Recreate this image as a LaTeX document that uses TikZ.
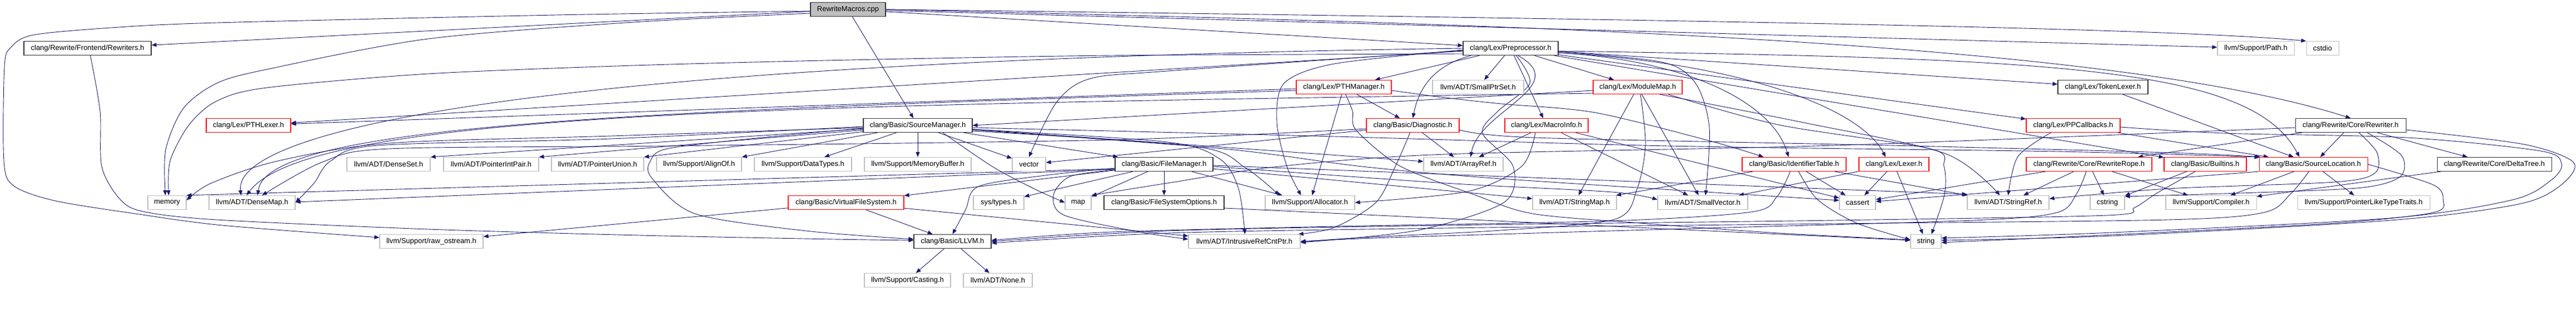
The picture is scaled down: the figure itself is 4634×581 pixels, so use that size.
\documentclass[tikz,border=0pt]{standalone}
\usepackage{fontspec}
\setmainfont{Liberation Sans}
\usetikzlibrary{arrows.meta}
\pgfdeclarelayer{bg}
\pgfsetlayers{bg,main}
\definecolor{edgec}{HTML}{191970}
\definecolor{grayb}{HTML}{BFBFBF}
\definecolor{rootf}{HTML}{BFBFBF}
\newcommand\nd[6]{\pgfmathsetmacro\ndw{#3-#2}\pgfmathsetmacro\ndx{(#2+#3)/2}\node[#5, minimum width=\ndw pt] (#1) at (\ndx,#4) {#6};}
\tikzset{
 nbase/.style={rectangle, inner sep=0pt, minimum height=25pt, fill=white, line width=1.1pt, font=\fontsize{13}{15}\selectfont, text=black},
 gnode/.style={nbase, draw=grayb},
 rnode/.style={nbase, draw=red},
 bnode/.style={nbase, draw=black!80},
 rootnode/.style={nbase, draw=black!80, fill=rootf},
 ed/.style={draw=edgec, line width=0.9pt, -{Triangle[length=9pt,width=7pt]}},
}
\begin{document}
\begin{tikzpicture}[x=1pt,y=-1pt]
\useasboundingbox (0,0) rectangle (4634,581);
% row 0
\nd{root}{1458}{1593}{17}{rootnode}{RewriteMacros.cpp}
% row 1
\nd{rewriters}{43}{272}{87}{bnode}{clang/Rewrite/Frontend/Rewriters.h}
\nd{pp}{2632}{2803}{87}{bnode}{clang/Lex/Preprocessor.h}
\nd{pathnode}{3989}{4127}{87}{gnode}{llvm/Support/Path.h}
\nd{cstdio}{4149}{4207}{87}{gnode}{cstdio}
% row 2
\nd{pthmgr}{2332}{2503}{157}{rnode}{clang/Lex/PTHManager.h}
\nd{smallptrset}{2577}{2741}{157}{gnode}{llvm/ADT/SmallPtrSet.h}
\nd{modulemap}{2866}{3026}{157}{rnode}{clang/Lex/ModuleMap.h}
\nd{tokenlexer}{3702}{3864}{157}{bnode}{clang/Lex/TokenLexer.h}
% row 3
\nd{pthlexer}{371}{523}{226}{rnode}{clang/Lex/PTHLexer.h}
\nd{srcmgr}{1553}{1749}{226}{bnode}{clang/Basic/SourceManager.h}
\nd{diag}{2458}{2625}{226}{rnode}{clang/Basic/Diagnostic.h}
\nd{macroinfo}{2707}{2857}{226}{rnode}{clang/Lex/MacroInfo.h}
\nd{ppcallbacks}{3645}{3814}{226}{rnode}{clang/Lex/PPCallbacks.h}
\nd{rewriter}{4129}{4328}{226}{bnode}{clang/Rewrite/Core/Rewriter.h}
% row 4
\nd{denseset}{624}{774}{296}{gnode}{llvm/ADT/DenseSet.h}
\nd{pip}{798}{969}{296}{gnode}{llvm/ADT/PointerIntPair.h}
\nd{punion}{992}{1158}{296}{gnode}{llvm/ADT/PointerUnion.h}
\nd{alignof}{1181}{1334}{296}{gnode}{llvm/Support/AlignOf.h}
\nd{datatypes}{1357}{1532}{296}{gnode}{llvm/Support/DataTypes.h}
\nd{membuf}{1555}{1747}{296}{gnode}{llvm/Support/MemoryBuffer.h}
\nd{vector}{1821}{1881}{296}{gnode}{vector}
\nd{filemgr}{2006}{2182}{296}{bnode}{clang/Basic/FileManager.h}
\nd{arrayref}{2561}{2704}{296}{gnode}{llvm/ADT/ArrayRef.h}
\nd{idtable}{3134}{3321}{296}{rnode}{clang/Basic/IdentifierTable.h}
\nd{lexer}{3344}{3470}{296}{rnode}{clang/Lex/Lexer.h}
\nd{rope}{3645}{3871}{296}{rnode}{clang/Rewrite/Core/RewriteRope.h}
\nd{builtins}{3893}{4041}{296}{rnode}{clang/Basic/Builtins.h}
\nd{srcloc}{4064}{4259}{296}{rnode}{clang/Basic/SourceLocation.h}
\nd{deltatree}{4384}{4590}{296}{bnode}{clang/Rewrite/Core/DeltaTree.h}
% row 5
\nd{memory}{266}{335}{365}{gnode}{memory}
\nd{densemap}{376}{531}{365}{gnode}{llvm/ADT/DenseMap.h}
\nd{vfs}{1418}{1626}{365}{rnode}{clang/Basic/VirtualFileSystem.h}
\nd{systypes}{1751}{1842}{365}{gnode}{sys/types.h}
\nd{map}{1916}{1963}{365}{gnode}{map}
\nd{fsopts}{1986}{2202}{365}{bnode}{clang/Basic/FileSystemOptions.h}
\nd{allocator}{2276}{2437}{365}{gnode}{llvm/Support/Allocator.h}
\nd{stringmap}{2757}{2908}{365}{gnode}{llvm/ADT/StringMap.h}
\nd{smallvector}{2982}{3144}{365}{gnode}{llvm/ADT/SmallVector.h}
\nd{cassert}{3309}{3374}{365}{gnode}{cassert}
\nd{stringref}{3539}{3686}{365}{gnode}{llvm/ADT/StringRef.h}
\nd{cstring}{3760}{3822}{365}{gnode}{cstring}
\nd{compiler}{3896}{4059}{365}{gnode}{llvm/Support/Compiler.h}
\nd{pltt}{4133}{4371}{365}{gnode}{llvm/Support/PointerLikeTypeTraits.h}
% row 6
\nd{rawostream}{683}{869}{435}{gnode}{llvm/Support/raw\_ostream.h}
\nd{llvmh}{1644}{1783}{435}{bnode}{clang/Basic/LLVM.h}
\nd{irc}{2138}{2339}{435}{gnode}{llvm/ADT/IntrusiveRefCntPtr.h}
\nd{string}{3437}{3492}{435}{gnode}{string}
% row 7
\nd{casting}{1555}{1710}{505}{gnode}{llvm/Support/Casting.h}
\nd{nonenode}{1733}{1857}{505}{gnode}{llvm/ADT/None.h}

\begin{pgfonlayer}{bg}
\fill[white] (0,0) rectangle (4634,581);
% root
\draw[ed] (root) -- (rewriters);
\draw[ed] (root) -- (pp);
\draw[ed] (root) -- (srcmgr);
\draw[ed] (root.east) .. controls (2500,40) and (3750,60) .. (rewriter.north);
\draw[ed] (root) -- (pathnode);
\draw[ed] (root.east) .. controls (3000,35) and (3900,50) .. (cstdio.north west);
\draw[ed] plot[smooth] coordinates {([yshift=-3pt]root.west) (1000,27) (390,41) (200,50) (60,63) (20,85) (8,120) (7,290) (25,335) (100,362) (250,386) (400,406) ([yshift=7pt]rawostream.west)};
\draw[ed] plot[smooth] coordinates {([yshift=-7pt]root.west) (1140,40) (770,70) (480,125) (390,150) (330,195) (298,270) ([xshift=-3pt]memory.north)};
% rewriters
\draw[ed] plot[smooth] coordinates {([xshift=5pt]rewriters.south) (180,200) (183,300) (215,358) (257,381) (390,396) (770,413) (1150,424) (1500,431) ([yshift=2pt]llvmh.west)};
% preprocessor
\draw[ed] (pp) -- (pthlexer);
\draw[ed] (pp) -- (pthmgr);
\draw[ed] (pp) -- (smallptrset);
\draw[ed] (pp) -- (modulemap);
\draw[ed] (pp) -- (macroinfo);
\draw[ed] ([xshift=15pt]pp.south west) .. controls (2570,120) and (2550,170) .. (diag.north);
\draw[ed] (pp) -- (tokenlexer);
\draw[ed] (pp) -- (ppcallbacks);
\draw[ed] ([yshift=-8pt]pp.east) .. controls (3050,110) and (3190,190) .. ([xshift=-10pt]idtable.north);
\draw[ed] ([yshift=-8pt]pp.east) .. controls (3150,115) and (3350,200) .. ([xshift=-15pt]lexer.north);
\draw[ed] (pp) -- (builtins);
\draw[ed] ([yshift=-5pt]pp.east) .. controls (3700,105) and (4050,120) .. ([xshift=-25pt]srcloc.north);
\draw[ed] ([xshift=13pt]pp.south) .. controls (2830,155) and (2660,200) .. ([xshift=13pt]arrayref.north);
\draw[ed] (pp.west) .. controls (1000,110) and (420,230) .. ([xshift=-20pt]densemap.north);
\draw[ed] plot[smooth] coordinates {([xshift=10pt]pp.south) (2752,150) (2695,200) (2667,240) (2722,300) (2705,365) (2550,415) ([yshift=-2pt]irc.east)};
\draw[ed] plot[smooth] coordinates {([yshift=-6pt]pp.east) (2990,112) (3050,150) (3075,230) ([xshift=5pt]smallvector.north)};
\draw[ed] plot[smooth] coordinates {([yshift=-3pt]pp.west) (2400,115) (2310,150) (2297,220) (2315,300) ([xshift=-16pt]allocator.north)};
\draw[ed] plot[smooth] coordinates {([yshift=-10pt]pp.west) (2000,100) (1530,108) (1140,118) (770,133) (480,158) (390,182) (340,225) (306,290) ([xshift=3pt]memory.north)};
\draw[ed] plot[smooth] coordinates {([yshift=-4pt]pp.west) (2100,128) (1960,142) (1900,185) (vector.north)};
% pthmanager
\draw[ed] (pthmgr) -- (pthlexer);
\draw[ed] (pthmgr) -- (diag);
\draw[ed] plot[smooth] coordinates {([yshift=-6pt]pthmgr.east) (2600,176) (2700,187) (2870,203) (3080,255) ([xshift=-55pt]idtable.north)};
\draw[ed] ([yshift=-6pt]pthmgr.west) .. controls (1200,200) and (480,220) .. ([xshift=10pt]densemap.north);
\draw[ed] (pthmgr) -- (allocator);
\draw[ed] plot[smooth] coordinates {([xshift=3pt]pthmgr.south) (2433,200) (2440,235) (2520,300) (2650,350) (2757,385) (2950,402) (3200,420) ([yshift=3pt]string.west)};
% modulemap
\draw[ed] ([yshift=-6pt]modulemap.west) -- (srcmgr.east);
\draw[ed] ([yshift=-11pt]modulemap.west) .. controls (1500,190) and (560,195) .. ([xshift=-10pt]densemap.north);
\draw[ed] plot[smooth] coordinates {([xshift=5pt]modulemap.south) (2960,260) (2945,340) (2905,395) (2700,415) (2450,428) ([yshift=-1pt]irc.east)};
\draw[ed] (modulemap) -- (smallvector);
\draw[ed] (modulemap) -- (stringmap);
\draw[ed] plot[smooth] coordinates {([xshift=40pt]modulemap.south) (3250,222) (3500,277) ([xshift=-15pt]stringref.north)};
\draw[ed] plot[smooth] coordinates {([xshift=55pt]modulemap.south) (3200,225) (3472,268) (3497,300) (3498,350) ([xshift=10pt]string.north)};
% macroinfo
\draw[ed] (macroinfo) -- (arrayref);
\draw[ed] (macroinfo) -- (smallvector);
\draw[ed] plot[smooth] coordinates {([xshift=-20pt]macroinfo.south) (2737,300) (2640,345) (allocator.east)};
\draw[ed] (macroinfo) -- (cassert);
% diagnostic
\draw[ed] plot[smooth] coordinates {([yshift=-8pt]diag.east) (2760,248) (3400,262) (3900,275) ([xshift=-95pt]srcloc.north)};
\draw[ed] (diag) -- (arrayref);
\draw[ed] plot[smooth] coordinates {([yshift=-6pt]diag.west) (2000,252) (1200,263) (700,268) (580,292) ([xshift=18pt]densemap.north)};
\draw[ed] plot[smooth] coordinates {([xshift=-5pt]diag.south) (2510,300) (2475,365) (2400,410) ([xshift=-4pt]irc.north east)};
\draw[ed] (diag) -- (vector);
% tokenlexer, ppcallbacks
\draw[ed] (tokenlexer) -- (srcloc);
\draw[ed] (ppcallbacks) -- (srcloc);
\draw[ed] plot[smooth] coordinates {([xshift=-40pt]ppcallbacks.south) (3630,282) (stringref.north)};
\draw[ed] plot[smooth] coordinates {([yshift=-3pt]ppcallbacks.east) (4000,240) (4330,248) (4570,272) (4608,295) (4590,324) (4520,360) (4300,393) (3800,419) ([yshift=6pt]string.east)};
% rewriter
\draw[ed] (rewriter) -- (srcloc);
\draw[ed] (rewriter) -- (deltatree);
\draw[ed] (rewriter) -- (rope);
\draw[ed] plot[smooth] coordinates {([xshift=15pt]rewriter.south) (4276,275) (4272,312) (4200,328) (3900,340) ([yshift=7pt]stringref.east)};
\draw[ed] plot[smooth] coordinates {([xshift=30pt]rewriter.south) (4320,280) (4318,318) (4250,338) (4060,347) ([yshift=-2pt]cstring.north east)};
\draw[ed] plot[smooth] coordinates {([yshift=-4pt]rewriter.west) (3300,262) (2600,278) (2300,300) (2100,330) (map.north east)};
\draw[ed] plot[smooth] coordinates {([yshift=-8pt]rewriter.east) (4540,260) (4630,293) (4605,335) (4530,368) (4300,397) (3800,425) ([yshift=2pt]string.east)};
% sourcemanager
\draw[ed] (srcmgr) -- (filemgr);
\draw[ed] plot[smooth] coordinates {([yshift=-5pt]srcmgr.west) (1350,250) (1200,268) (1170,290) (1172,320) (1250,385) (1450,416) ([yshift=4pt]llvmh.west)};
\draw[ed] plot[smooth] coordinates {([yshift=-4pt]srcmgr.east) (2400,246) (3000,263) (3700,273) ([xshift=-97pt]srcloc.north)};
\draw[ed] (srcmgr) -- (arrayref);
\draw[ed] plot[smooth] coordinates {([yshift=-2pt]srcmgr.west) (1100,250) (680,262) (595,290) (565,330) (densemap.east)};
\draw[ed] (srcmgr) -- (denseset.north east);
\draw[ed] (srcmgr) -- (pip.north east);
\draw[ed] (srcmgr) -- (punion.north east);
\draw[ed] (srcmgr) -- (alignof.north east);
\draw[ed] (srcmgr) -- (datatypes);
\draw[ed] (srcmgr) -- (membuf);
\draw[ed] (srcmgr) -- (vector);
\draw[ed] plot[smooth] coordinates {([yshift=-7pt]srcmgr.east) (2100,256) (2195,287) (2228,340) ([xshift=1pt]irc.north)};
\draw[ed] plot[smooth] coordinates {([yshift=-10pt]srcmgr.east) (2150,264) (2240,302) ([xshift=-55pt]allocator.north)};
\draw[ed] plot[smooth] coordinates {([yshift=-8pt]srcmgr.east) (2200,268) (2450,300) (2700,322) ([yshift=4pt]cassert.west)};
\draw[ed] plot[smooth] coordinates {([xshift=45pt]srcmgr.south) (1785,300) (1860,340) (map.west)};
\draw[ed] plot[smooth] coordinates {([yshift=-4pt]srcmgr.west) (1100,245) (700,258) (500,290) (380,330) ([yshift=4pt]memory.east)};
% filemanager
\draw[ed] (filemgr) -- (fsopts);
\draw[ed] plot[smooth] coordinates {([yshift=-7pt]filemgr.west) (1880,316) (1760,336) (1737,378) (llvmh.north)};
\draw[ed] (filemgr) -- (vfs);
\draw[ed] ([yshift=-9pt]filemgr.west) -- ([yshift=1pt]densemap.east);
\draw[ed] plot[smooth] coordinates {([yshift=-10pt]filemgr.west) (1925,318) (1895,352) (1915,388) (2050,418) ([yshift=4pt]irc.west)};
\draw[ed] plot[smooth] coordinates {([yshift=-4pt]filemgr.east) (2600,330) (2900,346) ([yshift=5pt]smallvector.west)};
\draw[ed] (filemgr) -- (stringmap);
\draw[ed] ([yshift=-2pt]filemgr.east) -- ([yshift=15pt]stringref.west);
\draw[ed] (filemgr) -- (allocator);
\draw[ed] ([yshift=-8pt]filemgr.west) -- (memory.north east);
\draw[ed] (filemgr) -- (map);
\draw[ed] (filemgr) -- (systypes);
% filesystemoptions
\draw[ed] ([yshift=-10pt]fsopts.east) -- ([yshift=2pt]string.west);
% identifiertable
\draw[ed] plot[smooth] coordinates {([xshift=-7pt]idtable.south) (3196,355) (3150,382) (2900,398) (2400,408) (2000,418) ([yshift=2pt]llvmh.east)};
\draw[ed] (idtable) -- (stringmap);
\draw[ed] (idtable) -- (stringref);
\draw[ed] (idtable) -- (cassert);
\draw[ed] plot[smooth] coordinates {([xshift=8pt]idtable.south) (3270,360) (3340,402) ([yshift=3pt]string.west)};
% lexer
\draw[ed] (lexer) -- (smallvector);
\draw[ed] (lexer) -- (cassert);
\draw[ed] (lexer) -- (string);
% rewriterope
\draw[ed] plot[smooth] coordinates {([xshift=-5pt]rope.south) (3735,350) (3700,383) (3550,397) (3000,413) (2500,428) (irc.east)};
\draw[ed] (rope) -- (stringref);
\draw[ed] (rope) -- (compiler);
\draw[ed] (rope) -- (cassert);
\draw[ed] (rope) -- (cstring);
% builtins
\draw[ed] (builtins) -- (cstring);
\draw[ed] plot[smooth] coordinates {([xshift=-18pt]builtins.south) (3880,348) (3840,374) (3790,388) (3300,397) (2600,406) (2100,416) (llvmh.east)};
% sourcelocation
\draw[ed] plot[smooth] coordinates {([xshift=-8pt]srcloc.south) (4120,350) (4072,383) (3900,396) (3300,403) (2600,411) (2100,420) ([yshift=-3pt]llvmh.east)};
\draw[ed] (srcloc) -- (compiler);
\draw[ed] (srcloc) -- (pltt);
\draw[ed] (srcloc.south west) -- ([yshift=2pt]cassert.east);
\draw[ed] plot[smooth] coordinates {(srcloc.east) (4377,333) (4395,360) (4377,383) (4200,402) (3800,423) ([yshift=-2pt]string.east)};
% deltatree
\draw[ed] (deltatree) -- (compiler);
% virtualfilesystem
\draw[ed] (vfs) -- (llvmh);
\draw[ed] (vfs) -- (irc);
\draw[ed] (vfs) -- (rawostream);
% llvm.h
\draw[ed] (llvmh) -- (casting);
\draw[ed] (llvmh) -- (nonenode);
\end{pgfonlayer}
\end{tikzpicture}
\end{document}
